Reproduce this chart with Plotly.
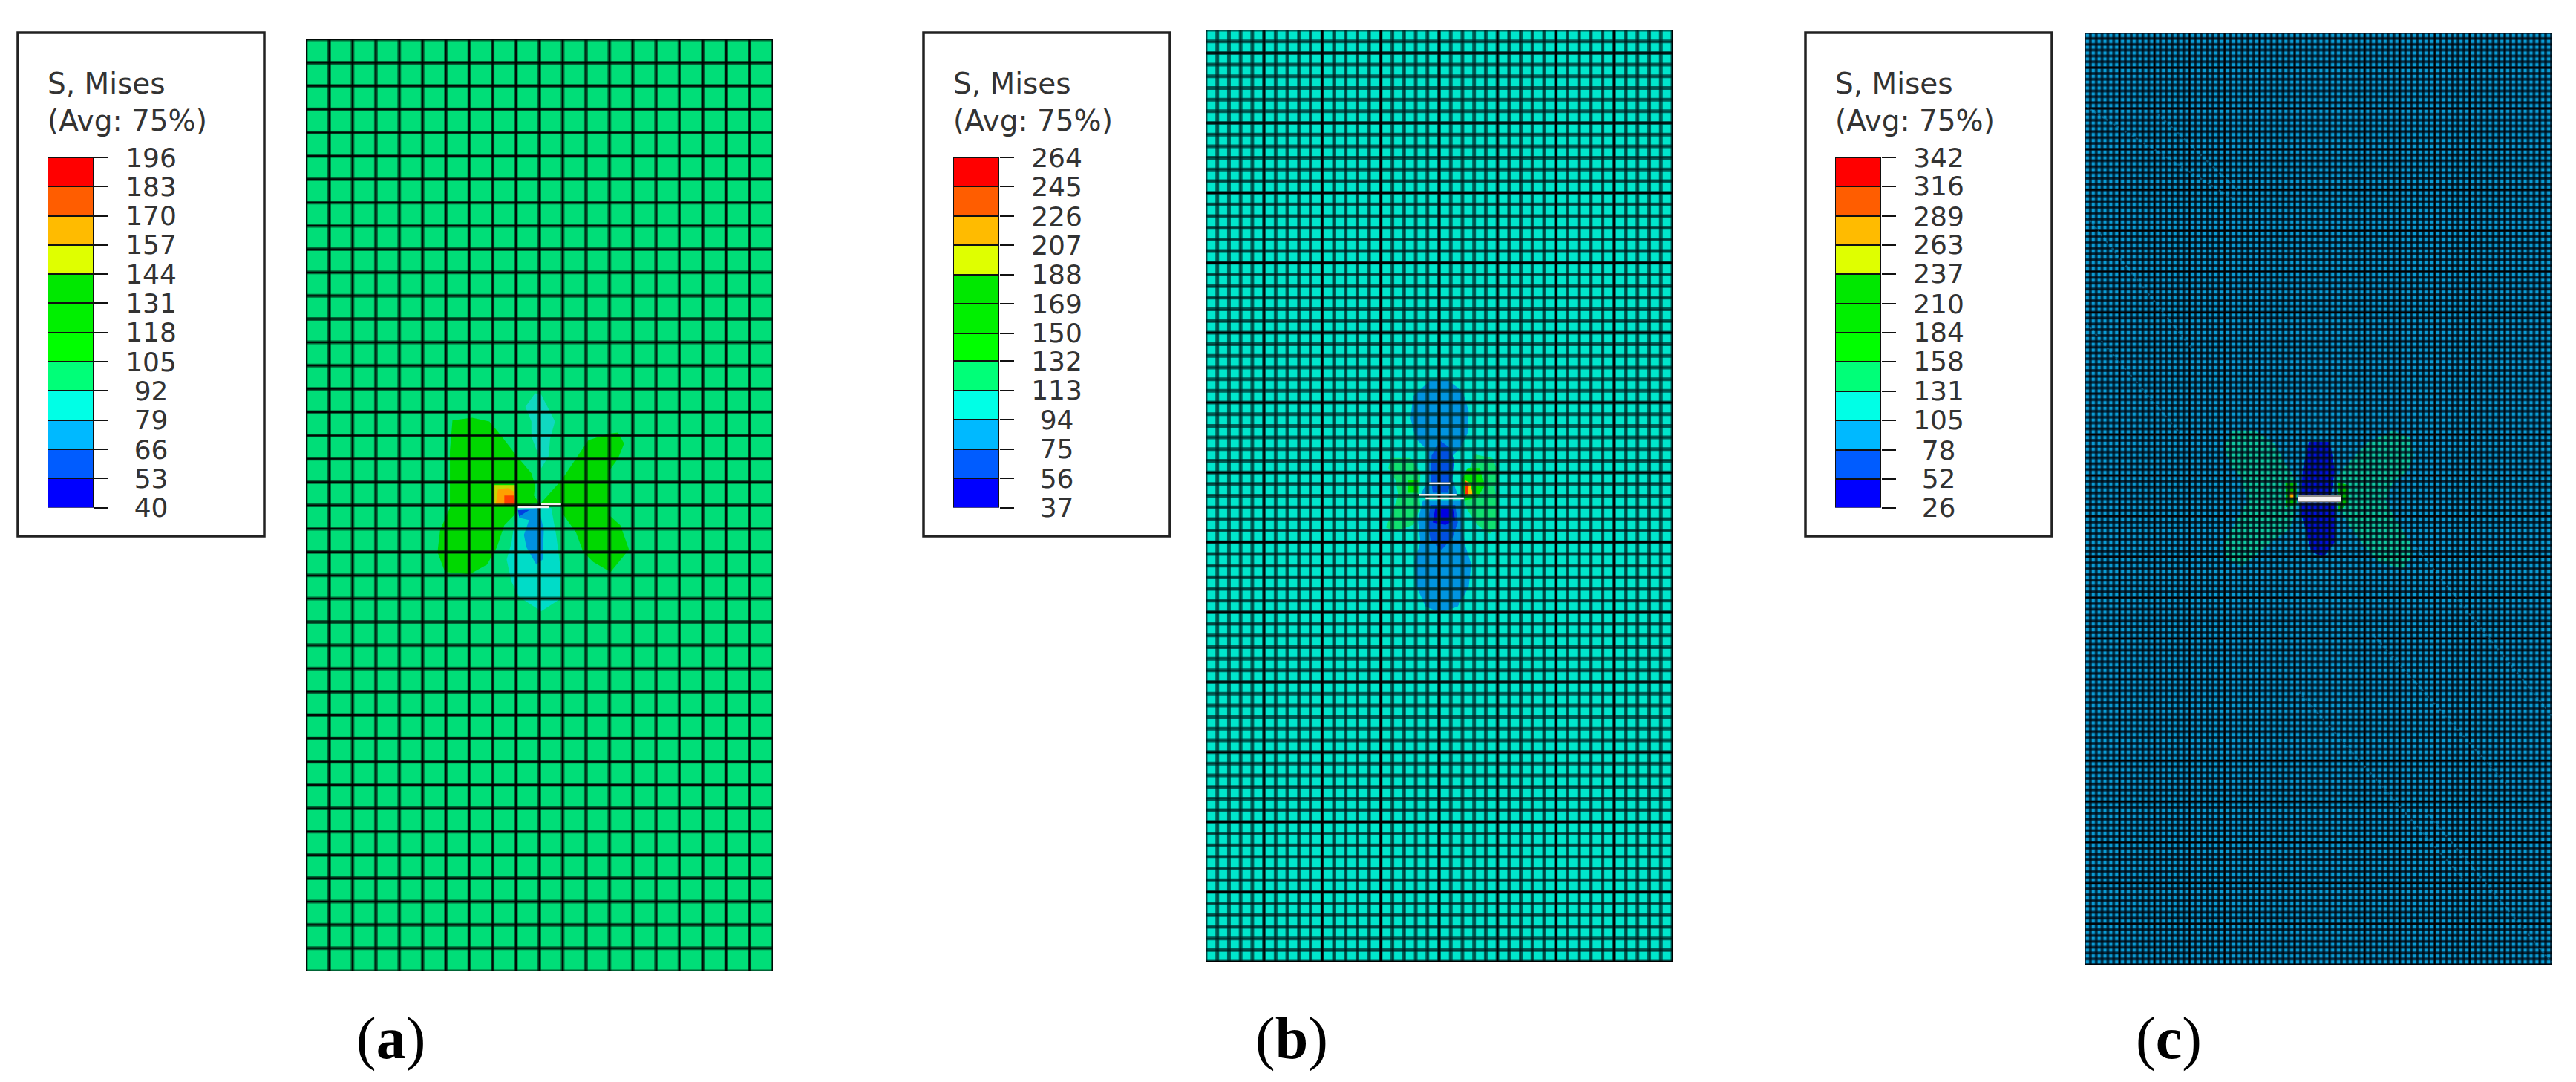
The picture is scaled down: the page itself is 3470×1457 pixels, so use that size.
import numpy as np
import plotly.graph_objects as go

W, H = 3470, 1457

# Legend levels, bottom to top
levels_a = [40, 53, 66, 79, 92, 105, 118, 131, 144, 157, 170, 183, 196]
levels_b = [37, 56, 75, 94, 113, 132, 150, 169, 188, 207, 226, 245, 264]
levels_c = [26, 52, 78, 105, 131, 158, 184, 210, 237, 263, 289, 316, 342]
band_colors = ["#0000FF", "#005CFF", "#00B9FF", "#00FFE6", "#00FF78", "#00FF00",
               "#00F000", "#00E800", "#DFFF00", "#FFBB00", "#FF5D00", "#FF0000"]

# Mesh sizes (elements across, elements down)
mesh_a = (20, 40)
mesh_b = (40, 80)
mesh_c = (80, 160)

# Contour regions, outlines as x and y lists in plate units measured from the crack centre
a_left_x = [-3.72, -2.88, -2.14, -1.61, -0.97, -0.34, -0.18, -0.23, -0.02, -0.87, -1.08, -1.50, -1.82, -2.24, -2.98, -4.04, -4.36, -4.25, -3.83, -3.83, -3.83]
a_left_y = [3.65, 3.76, 3.60, 2.96, 2.12, 1.38, 0.85, 0.42, 0.10, -0.05, -0.42, -0.85, -1.80, -2.54, -2.96, -2.86, -2.01, -1.06, -0.11, 1.06, 2.33]
a_right_x = [0.08, 0.93, 2.10, 2.94, 3.37, 3.63, 3.37, 2.99, 2.99, 3.47, 3.84, 3.05, 2.31, 1.88, 1.57, 1.04, 0.93]
a_right_y = [0.11, 1.06, 2.80, 3.07, 3.12, 2.65, 2.01, 1.48, -0.42, -0.85, -1.90, -2.86, -2.43, -2.01, -1.16, -0.42, 0]
a_up_x = [-0.18, 0.08, 0.40, 0.67, 0.46, 0.40, 0.08, -0.02, -0.34, -0.34, -0.60]
a_up_y = [4.81, 4.76, 4.13, 3.60, 2.86, 2.12, 1.59, 2.12, 2.96, 3.60, 4.23]
a_low_x = [-0.97, 0.51, 0.72, 0.93, 0.88, 0.08, -0.87, -1.19, -1.40, -1.19, -1.08]
a_low_y = [-0.11, -0.11, -1.27, -2.86, -4.02, -4.55, -3.92, -3.28, -2.33, -1.59, -0.85]
a_blue_x = [-0.87, -0.02, 0.19, 0.14, -0.13, -0.55, -0.66, -0.44, -0.87]
a_blue_y = [-0.21, -0.11, -1.06, -2.33, -2.54, -1.80, -1.27, -0.63, -0.53]
a_deep_x = [-0.92, -0.44, -0.87]
a_deep_y = [-0.21, -0.21, -0.48]
a_yellow_x = [-1.93, -1.03, -1.03, -1.93]
a_yellow_y = [0.87, 0.87, 0.02, 0.02]
a_orange_x = [-1.77, -1.34, -1.08, -1.03, -1.87]
a_orange_y = [0.69, 0.74, 0.58, 0.02, 0.02]
a_red_x = [-1.50, -1.08, -1.03, -1.50]
a_red_y = [0.42, 0.42, 0.02, 0.02]

b_up_x = [-0.37, 0.37, 1.01, 1.27, 1.22, 0.90, 0.58, 0.58, 0.80, -0.80, -0.48, -0.48, -1.01, -1.22, -1.11]
b_up_y = [4.96, 4.96, 4.48, 3.63, 2.68, 2.04, 1.72, 0.66, 0.02, 0.02, 0.66, 1.93, 2.47, 3.32, 4.27]
b_low_x = [-0.69, 1.01, 0.95, 1.11, 1.38, 1.27, 0.80, 0.05, -0.58, -1.01, -1.06, -0.80, -0.90]
b_low_y = [-0.19, -0.19, -1.04, -2.10, -2.95, -3.91, -4.76, -5.03, -4.76, -3.80, -2.85, -2.00, -1.04]
b_inner_up_x = [0.05, 0.48, 0.64, 0.58, 0.37, -0.27, -0.37, -0.32]
b_inner_up_y = [2.36, 2.04, 1.51, 0.87, 0.13, 0.13, 0.87, 1.72]
b_inner_low_x = [-0.37, 0.69, 0.80, 0.58, 0.11, -0.37, -0.48]
b_inner_low_y = [-0.40, -0.40, -1.15, -1.79, -2.32, -1.89, -1.15]
b_deep_x = [-0.16, 0.58, 0.69, 0.27, -0.27]
b_deep_y = [-0.51, -0.51, -1.04, -1.25, -1.15]
b_left_x = [-2.07, -1.22, -0.80, -0.85, -0.80, -1.11, -1.86, -2.28, -1.96, -1.75, -1.86, -2.17]
b_left_y = [1.62, 1.62, 0.98, 0.02, -0.51, -1.25, -1.52, -1.36, -0.62, 0.02, 0.66, 1.19]
b_left_in_x = [-1.33, -0.90, -0.90, -1.33]
b_left_in_y = [0.66, 0.66, 0.13, 0.13]
b_right_x = [1.54, 2.28, 2.55, 2.39, 2.49, 2.49, 2.17, 1.64, 1.22, 1.06, 1.11]
b_right_y = [1.77, 1.62, 0.98, 0.34, -0.40, -1.36, -1.63, -1.25, -0.62, -0.19, 0.66]
b_right_in_x = [1.22, 1.75, 1.96, 1.64, 1.11, 0.95]
b_right_in_y = [1.19, 1.19, 0.45, -0.09, -0.19, 0.66]
b_yellow_x = [1.11, 1.33, 1.45, 1.11]
b_yellow_y = [0.66, 0.55, 0.02, -0.03]
b_red_x = [1.11, 1.27, 1.22, 1.11]
b_red_y = [0.66, 0.45, 0.02, -0.03]

c_left_x = [-3.68, -2.72, -1.88, -1.35, -0.92, -0.92, -1.24, -1.88, -2.51, -3.25, -3.89, -4.05, -3.47, -3.04, -3.25, -3.78, -4.00]
c_left_y = [2.92, 2.92, 2.39, 1.43, 0.80, -0.48, -1.33, -1.75, -2.28, -2.92, -2.60, -1.97, -0.90, -0.16, 0.90, 1.43, 2.28]
c_right_x = [2.15, 3.21, 3.95, 4.11, 3.85, 3.21, 2.89, 3.32, 3.95, 4.06, 3.64, 2.58, 1.94, 1.30, 0.88, 0.77, 1.30]
c_right_y = [2.44, 2.92, 2.60, 1.86, 1.22, 0.69, -0.05, -0.90, -1.86, -2.39, -3.03, -2.71, -1.97, -1.12, -0.27, 0.90, 1.54]
c_left_in_x = [-1.40, -0.92, -0.92, -1.35]
c_left_in_y = [0.69, 0.69, -0.27, -0.37]
c_right_in_x = [0.88, 1.30, 1.30, 0.88]
c_right_in_y = [0.69, 0.58, -0.16, -0.58]
c_up_x = [-0.39, 0.51, 0.72, 0.56, -0.71, -0.66]
c_up_y = [2.44, 2.44, 1.22, 0.16, 0.16, 1.22]
c_low_x = [-0.71, 0.72, 0.72, 0.24, -0.29, -0.50, -0.71]
c_low_y = [-0.16, -0.16, -1.86, -2.50, -2.28, -1.43, -0.69]
c_hot_x = [-1.24, -0.98, -0.98, -1.24]
c_hot_y = [0.27, 0.27, 0, 0]

# Faint diagonal streaks across the finest mesh, x0, y0, x1, y1 in plate units
c_streaks = [(-9.9, 16.8, -3.7, 12.9), (-6.85, 16.5, -3.4, 13.2), (-9.9, 12.1, -5.4, 6.45),
             (-9.9, 7.5, -5.9, 2.8), (4.6, -13.4, 10, -19.9), (-0.8, -8.3, 6.2, -16.3),
             (2.4, -5.9, 8.2, -12.4), (4.2, -2.1, 10, -9.3)]

panels = [
    dict(name="(<b>a</b>)", levels=levels_a, mesh=mesh_a, box_left=24, mesh_left=412, mesh_top=53,
         label_x=526, base="#00DE78", halo="rgba(0,20,10,0.6)", halo_w=5, core="rgba(0,0,0,0.9)", core_w=2,
         bold_every=None, bold_w=0,
         regions=[(a_left_x, a_left_y, "#00D800"), (a_right_x, a_right_y, "#00D800"),
                  (a_up_x, a_up_y, "#10D8C0"), (a_low_x, a_low_y, "#00DCC8"),
                  (a_blue_x, a_blue_y, "#0090E0"), (a_deep_x, a_deep_y, "#0040E0"),
                  (a_yellow_x, a_yellow_y, "#C8D800"), (a_orange_x, a_orange_y, "#FFA000"),
                  (a_red_x, a_red_y, "#FF4000")],
         cracks=[(-0.92, 0.40, -0.08), (0.08, 0.93, 0.05)], crack_w=2.5, streaks=[]),
    dict(name="(<b>b</b>)", levels=levels_b, mesh=mesh_b, box_left=1244, mesh_left=1624, mesh_top=40,
         label_x=1740, base="#00E6CC", halo="rgba(0,40,40,0.7)", halo_w=5, core="rgba(0,0,0,0.35)", core_w=1.5,
         bold_every=5, bold_w=2.5,
         regions=[(b_up_x, b_up_y, "#0094E0"), (b_low_x, b_low_y, "#0094E0"),
                  (b_inner_up_x, b_inner_up_y, "#0050E0"), (b_inner_low_x, b_inner_low_y, "#0050E0"),
                  (b_deep_x, b_deep_y, "#0000E0"),
                  (b_left_x, b_left_y, "#10E070"), (b_left_in_x, b_left_in_y, "#00E800"),
                  (b_right_x, b_right_y, "#10E070"), (b_right_in_x, b_right_in_y, "#00E800"),
                  (b_yellow_x, b_yellow_y, "#FFC000"), (b_red_x, b_red_y, "#FF3000")],
         cracks=[(-0.42, 0.48, 0.53), (-0.85, 0.74, 0.04), (-0.58, 1.06, -0.11)], crack_w=2.5, streaks=[]),
    dict(name="(<b>c</b>)", levels=levels_c, mesh=mesh_c, box_left=2432, mesh_left=2808, mesh_top=44,
         label_x=2921, base="#0A9CD4", halo="rgba(0,15,30,0.68)", halo_w=4, core="rgba(0,0,0,0.45)", core_w=1.5,
         bold_every=6, bold_w=1.5,
         regions=[(c_left_x, c_left_y, "#10C8A0"), (c_right_x, c_right_y, "#10C8A0"),
                  (c_left_in_x, c_left_in_y, "#00C000"), (c_right_in_x, c_right_in_y, "#00C000"),
                  (c_up_x, c_up_y, "#0010D8"), (c_low_x, c_low_y, "#0010D8"),
                  (c_hot_x, c_hot_y, "#FFB000")],
         cracks=[(-0.87, 0.99, 0.0)], crack_w=5, streaks=c_streaks),
]


def mesh_lines(nx, ny, step=None):
    # Element edges in plate units, broken with None between lines
    xs, ys = [], []
    for i in range(nx + 1):
        if step and i % step != 0:
            continue
        x = -10 + 20 * i / nx
        xs += [x, x, None]
        ys += [-20, 20, None]
    for j in range(ny + 1):
        if step and j % (step + 1) != 0:
            continue
        y = -20 + 40 * j / ny
        xs += [-10, 10, None]
        ys += [y, y, None]
    return xs, ys


fig = go.Figure()
shapes, annotations, axes = [], [], {}

for n, p in enumerate(panels):
    # Two axis pairs for each panel: legend bar, then mesh
    bar_id = 2 * n + 1
    mesh_id = 2 * n + 2
    bl = p["box_left"]

    # Legend frame goes under everything
    shapes.append(dict(type="rect", xref="paper", yref="paper", layer="below",
                       x0=bl / W, x1=(bl + 332) / W, y0=1 - 722 / H, y1=1 - 44 / H,
                       line=dict(color="#222222", width=3.5), fillcolor="white"))
    annotations.append(dict(xref="paper", yref="paper", x=(bl + 38) / W, y=1 - 113 / H, text="S, Mises",
                            showarrow=False, xanchor="left", yanchor="middle",
                            font=dict(family="DejaVu Sans", size=39, color="#333333")))
    annotations.append(dict(xref="paper", yref="paper", x=(bl + 38) / W, y=1 - 162 / H, text="(Avg: 75%)",
                            showarrow=False, xanchor="left", yanchor="middle",
                            font=dict(family="DejaVu Sans", size=39, color="#333333")))
    annotations.append(dict(xref="paper", yref="paper", x=p["label_x"] / W, y=1 - 1398 / H, text=p["name"],
                            showarrow=False, xanchor="center", yanchor="middle",
                            font=dict(family="Liberation Serif", size=80, color="black")))

    # Legend colour bar, one bar per band between two levels
    levels = p["levels"]
    fig.add_trace(go.Bar(
        x=[0] * 12,
        y=np.diff(levels).tolist(),
        base=levels[:-1],
        width=1,
        marker=dict(color=band_colors, line=dict(color="#111111", width=2)),
        hoverinfo="skip",
        xaxis=f"x{bar_id}",
        yaxis=f"y{bar_id}",
    ))
    axes[f"xaxis{bar_id}"] = dict(domain=[(bl + 40) / W, (bl + 102) / W], range=[-0.5, 0.5], visible=False,
                                  anchor=f"y{bar_id}", automargin=False)
    axes[f"yaxis{bar_id}"] = dict(domain=[1 - 683.5 / H, 1 - 212 / H], range=[levels[0], levels[-1]],
                                  anchor=f"x{bar_id}", side="right", showgrid=False, zeroline=False,
                                  automargin=False, tickmode="array", tickvals=levels,
                                  # a no-break space is half a digit wide, so short labels stay centred
                                  ticktext=[f"{v}" if v >= 100 else f"\u00a0{v}" for v in levels],
                                  ticks="outside", ticklen=19, tickwidth=2, tickcolor="#111111",
                                  ticklabelstandoff=16, showline=False,
                                  tickfont=dict(family="DejaVu Sans", size=36, color="#333333"))

    # Contour regions under the mesh lines
    for rx, ry, color in p["regions"]:
        fig.add_trace(go.Scatter(x=rx, y=ry, mode="lines", fill="toself", fillcolor=color,
                                 line=dict(width=0, color=color), hoverinfo="skip",
                                 xaxis=f"x{mesh_id}", yaxis=f"y{mesh_id}"))

    nx, ny = p["mesh"]
    xs, ys = mesh_lines(nx, ny)
    fig.add_trace(go.Scatter(x=xs, y=ys, mode="lines", line=dict(color=p["halo"], width=p["halo_w"]),
                             hoverinfo="skip", xaxis=f"x{mesh_id}", yaxis=f"y{mesh_id}"))
    fig.add_trace(go.Scatter(x=xs, y=ys, mode="lines", line=dict(color=p["core"], width=p["core_w"]),
                             hoverinfo="skip", xaxis=f"x{mesh_id}", yaxis=f"y{mesh_id}"))
    if p["bold_every"]:
        bx, by = mesh_lines(nx, ny, p["bold_every"])
        fig.add_trace(go.Scatter(x=bx, y=by, mode="lines", line=dict(color="black", width=p["bold_w"]),
                                 hoverinfo="skip", xaxis=f"x{mesh_id}", yaxis=f"y{mesh_id}"))

    # Streaks sit on top of the lines
    for x0, y0, x1, y1 in p["streaks"]:
        fig.add_trace(go.Scatter(x=[x0, x1], y=[y0, y1], mode="lines",
                                 line=dict(color="rgba(25,165,225,0.4)", width=2.5, dash="dot"),
                                 hoverinfo="skip", xaxis=f"x{mesh_id}", yaxis=f"y{mesh_id}"))

    # Crack faces, with a soft grey edge on the thick one
    for c0, c1, cy in p["cracks"]:
        if p["crack_w"] > 3:
            fig.add_trace(go.Scatter(x=[c0, c1], y=[cy, cy], mode="lines",
                                     line=dict(color="#8A8A8A", width=p["crack_w"] + 5), hoverinfo="skip",
                                     xaxis=f"x{mesh_id}", yaxis=f"y{mesh_id}"))
        fig.add_trace(go.Scatter(x=[c0, c1], y=[cy, cy], mode="lines",
                                 line=dict(color="#F4F0F0", width=p["crack_w"]), hoverinfo="skip",
                                 xaxis=f"x{mesh_id}", yaxis=f"y{mesh_id}"))

    ml, mt = p["mesh_left"], p["mesh_top"]
    axes[f"xaxis{mesh_id}"] = dict(domain=[ml / W, (ml + 629) / W], range=[-10, 10], visible=False,
                                   anchor=f"y{mesh_id}", automargin=False)
    axes[f"yaxis{mesh_id}"] = dict(domain=[1 - (mt + 1255) / H, 1 - mt / H], range=[-20, 20], visible=False,
                                   anchor=f"x{mesh_id}", automargin=False)
    # Plate colour fills the mesh area
    shapes.append(dict(type="rect", xref="paper", yref="paper", layer="below",
                       x0=ml / W, x1=(ml + 629) / W, y0=1 - (mt + 1255) / H, y1=1 - mt / H,
                       line=dict(width=0), fillcolor=p["base"]))

fig.update_layout(
    width=W,
    height=H,
    margin=dict(l=0, r=0, t=0, b=0),
    paper_bgcolor="white",
    plot_bgcolor="rgba(0,0,0,0)",
    showlegend=False,
    bargap=0,
    shapes=shapes,
    annotations=annotations,
    **axes,
)

fig.write_html("out.html", config={"displayModeBar": False},
               post_script="document.body.style.margin='0';")
